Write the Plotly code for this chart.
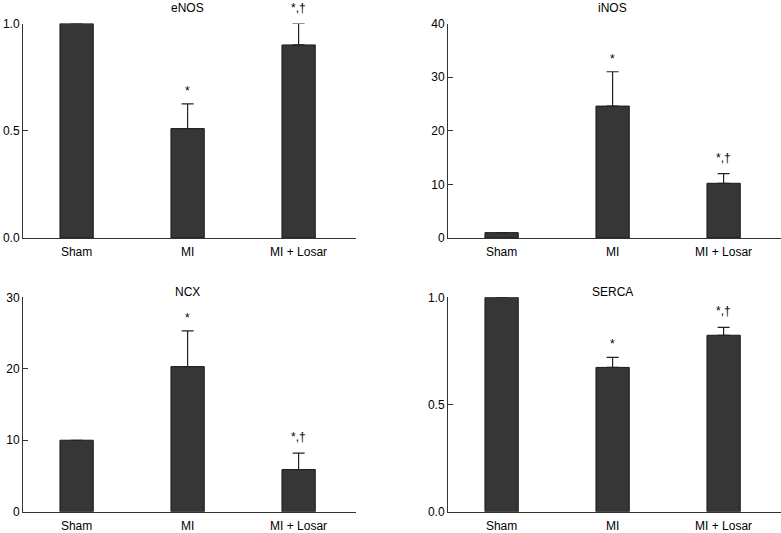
import plotly.graph_objects as go
from plotly.subplots import make_subplots

categories = ["Sham", "MI", "MI + Losar"]
marks = ["", "*", "*,\u2020"]

enos_mean = [1.0, 0.51, 0.90]
enos_err = [0.0, 0.115, 0.10]
inos_mean = [1.0, 24.6, 10.2]
inos_err = [0.0, 6.4, 1.8]
ncx_mean = [10.0, 20.3, 5.9]
ncx_err = [0.0, 5.0, 2.3]
serca_mean = [1.0, 0.673, 0.823]
serca_err = [0.0, 0.047, 0.037]

panels = [
    ("eNOS", enos_mean, enos_err, [0, 1.0], [0.0, 0.5, 1.0], ".1f", 1, 1),
    ("iNOS", inos_mean, inos_err, [0, 40], [0, 10, 20, 30, 40], "d", 1, 2),
    ("NCX", ncx_mean, ncx_err, [0, 30], [0, 10, 20, 30], "d", 2, 1),
    ("SERCA", serca_mean, serca_err, [0, 1.0], [0.0, 0.5, 1.0], ".1f", 2, 2),
]

W, H = 781, 533
FONT = "Liberation Sans, Arial, sans-serif"

fig = make_subplots(rows=2, cols=2)

xdom = {1: [23 / W, 356 / W], 2: [448 / W, 1.0]}
ydom = {1: [1 - 238 / H, 1 - 23.5 / H], 2: [1 - 511.7 / H, 1 - 297.3 / H]}

for i, (title, mean, err, yr, tv, fmt, r, c) in enumerate(panels):
    fig.add_trace(
        go.Bar(
            x=categories, y=mean, width=0.3,
            marker=dict(color="#363636", line=dict(color="#1a1a1a", width=1)),
            error_y=dict(type="data", array=err, arrayminus=[0, 0, 0], symmetric=False,
                         color="#222222", thickness=1.2, width=6),
            showlegend=False, cliponaxis=False, hoverinfo="skip",
        ),
        row=r, col=c,
    )
    idx = "" if i == 0 else str(i + 1)
    fig.update_layout(**{
        f"xaxis{idx}": dict(domain=xdom[c], range=[-0.483, 2.517], showline=True,
                            linecolor="#333333", linewidth=1, ticks="",
                            ticklabelstandoff=3, automargin=False,
                            tickfont=dict(family=FONT, size=12, color="#000"),
                            showgrid=False, zeroline=False, fixedrange=True),
        f"yaxis{idx}": dict(domain=ydom[r], range=yr, tickvals=tv, tickformat=fmt,
                            showline=True, linecolor="#333333", linewidth=1,
                            ticks="inside", ticklen=5, tickcolor="#333333",
                            automargin=False,
                            tickfont=dict(family=FONT, size=12, color="#000"),
                            showgrid=False, zeroline=False, fixedrange=True),
    })
    xref = f"x{idx}"
    yref = f"y{idx}"
    for cat, m, e, t in zip(categories, mean, err, marks):
        if t:
            fig.add_annotation(x=cat, y=m + e, xref=xref, yref=yref, text=t,
                               showarrow=False, yanchor="middle",
                               yshift=(13 if t == "*" else 16),
                               font=dict(family=FONT, size=12, color="#000"))
    # panel title
    fig.add_annotation(x=1, y=yr[1], xref=xref, yref=yref, text=title,
                       showarrow=False, yanchor="middle",
                       yshift=(16 if r == 1 else 5),
                       font=dict(family=FONT, size=12, color="#000"))

fig.update_layout(
    width=W, height=H,
    margin=dict(l=0, r=0, t=0, b=0),
    paper_bgcolor="white", plot_bgcolor="white",
    bargap=0.7,
)

POST = (
    "document.body.style.margin='0';"
    "document.body.style.overflow='hidden';"
)

fig.write_html("out.html", post_script=POST, config={"displayModeBar": False})
